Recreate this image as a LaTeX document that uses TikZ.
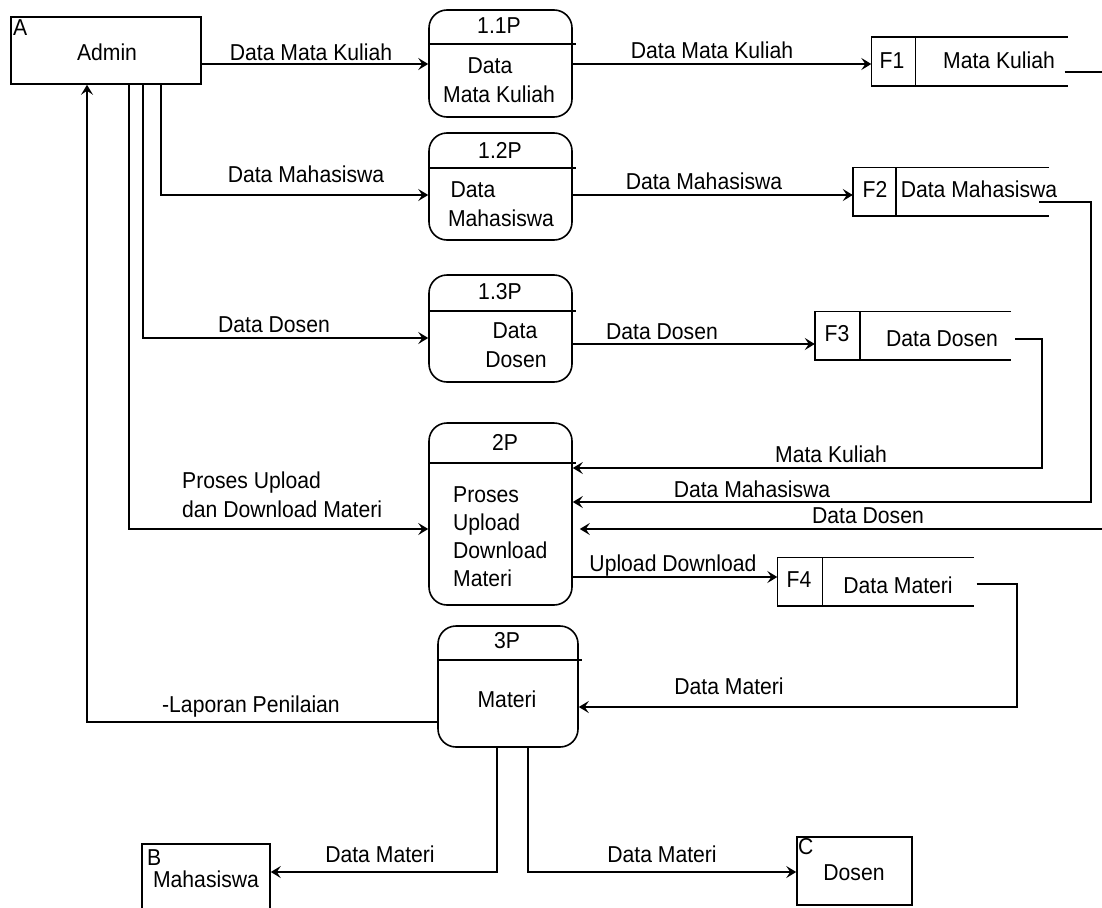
\documentclass[tikz,border=0pt]{standalone}
\usepackage{fontspec}
\setmainfont{Liberation Sans}[FakeStretch=0.92]
\usepackage{tikz}
\usetikzlibrary{arrows.meta}

\tikzset{
    entity/.style={draw, line width=1.6pt, inner sep=0pt},
    proc/.style={draw, line width=1.6pt, rounded corners=18pt, inner sep=0pt, minimum width=143pt},
    store/.style={inner sep=0pt, minimum width=196pt, minimum height=48pt},
    txt/.style={anchor=base, inner sep=0pt},
    flow/.style={line width=1.6pt, -{Stealth[length=10pt, width=12pt, inset=4pt]}},
    wire/.style={line width=1.6pt},
}

\begin{document}
\begin{tikzpicture}[x=1pt, y=-1pt, font=\fontsize{23}{27}\selectfont]
    \clip (0,0) rectangle (1102,907);
    \fill[white] (0,0) rectangle (1102,907);

    % External entities
    \node[entity, minimum width=190pt, minimum height=67pt] (admin) at ({106}, {50.5}) {};
    \node[entity, minimum width=128pt, minimum height=72pt] (mhs) at ({206}, {880}) {};
    \node[entity, minimum width=115pt, minimum height=68pt] (dosen) at ({854.5}, {871}) {};
    \node[txt, anchor=base west] (adminid) at ({13}, {36}) {A};
    \node[txt] (admintxt) at ({107}, {60}) {Admin};
    \node[txt, anchor=base west] (mhsid) at ({147}, {865}) {B};
    \node[txt] (mhstxt) at ({206}, {887}) {Mahasiswa};
    \node[txt, anchor=base west] (dosenid) at ({798}, {854}) {C};
    \node[txt] (dosentxt) at ({854}, {880}) {Dosen};

    % Processes
    \node[proc, minimum height=107pt] (p11) at ({500.5}, {63.5}) {};
    \node[proc, minimum height=107pt] (p12) at ({500.5}, {186.5}) {};
    \node[proc, minimum height=107pt] (p13) at ({500.5}, {328.5}) {};
    \node[proc, minimum height=182pt] (p2) at ({500.5}, {514}) {};
    \node[proc, minimum width=140pt, minimum height=121pt] (p3) at ({508}, {686.5}) {};
    \draw[wire] (p11.west |- 0,44) -- ([xshift=3pt]p11.east |- 0,44);
    \draw[wire] (p12.west |- 0,168) -- ([xshift=3pt]p12.east |- 0,168);
    \draw[wire] (p13.west |- 0,311) -- ([xshift=3pt]p13.east |- 0,311);
    \draw[wire] (p2.west |- 0,463) -- ([xshift=3pt]p2.east |- 0,463);
    \draw[wire] (p3.west |- 0,660) -- ([xshift=3pt]p3.east |- 0,660);

    \node[txt] (p11id) at ({499}, {34}) {1.1P};
    \node[txt] (p11a) at ({490}, {74}) {Data};
    \node[txt] (p11b) at ({499}, {102}) {Mata Kuliah};
    \node[txt] (p12id) at ({500}, {158}) {1.2P};
    \node[txt] (p12a) at ({473}, {197}) {Data};
    \node[txt] (p12b) at ({501}, {226}) {Mahasiswa};
    \node[txt] (p13id) at ({500}, {299}) {1.3P};
    \node[txt] (p13a) at ({515}, {338}) {Data};
    \node[txt] (p13b) at ({516}, {367}) {Dosen};
    \node[txt] (p2id) at ({505}, {450}) {2P};
    \foreach \t [count=\i from 0] in {Proses,Upload,Download,Materi}{
        \node[txt, anchor=base west] (p2t\i) at ({453}, {502+28*\i}) {\t};
    }
    \node[txt] (p3id) at ({507}, {648}) {3P};
    \node[txt] (p3txt) at ({507}, {707}) {Materi};

    % Data stores
    \node[store] (f1) at ({969.5}, {61.5}) {};
    \node[store] (f2) at ({951}, {191.5}) {};
    \node[store] (f3) at ({913}, {335.5}) {};
    \node[store] (f4) at ({875.5}, {581.5}) {};
    \foreach \f/\d in {f1/44, f2/43, f3/45, f4/45}{
        \draw[wire] (\f.north east) -- (\f.north west) -- (\f.south west) -- (\f.south east);
        \draw[wire] ([xshift=\d pt]\f.north west) -- ([xshift=\d pt]\f.south west);
    }
    \node[txt] (f1id) at ({892}, {68}) {F1};
    \node[txt] (f1txt) at ({999}, {68}) {Mata Kuliah};
    \node[txt] (f2id) at ({875}, {197}) {F2};
    \node[txt] (f2txt) at ({979}, {197}) {Data Mahasiswa};
    \node[txt] (f3id) at ({837}, {341}) {F3};
    \node[txt] (f3txt) at ({942}, {346}) {Data Dosen};
    \node[txt] (f4id) at ({799}, {587}) {F4};
    \node[txt] (f4txt) at ({898}, {593}) {Data Materi};

    % Flows from admin
    \draw[flow] (admin.east |- 0,64) -- (p11.west |- 0,64);
    \draw[flow] (admin.south -| 161,0) |- (p12.west |- 0,195);
    \draw[flow] (admin.south -| 143,0) |- (p13.west |- 0,338);
    \draw[flow] (admin.south -| 129,0) |- (p2.west |- 0,529);
    \draw[flow] (p3.west |- 0,722) -| (admin.south -| 87,0);
    \node[txt] (l1) at ({311}, {60}) {Data Mata Kuliah};
    \node[txt] (l2) at ({306}, {182}) {Data Mahasiswa};
    \node[txt] (l3) at ({274}, {332}) {Data Dosen};
    \node[txt, anchor=base west] (l4a) at ({182}, {488}) {Proses Upload};
    \node[txt, anchor=base west] (l4b) at ({182}, {517}) {dan Download Materi};
    \node[txt] (l5) at ({251}, {712}) {-Laporan Penilaian};

    % Flows to stores
    \draw[flow] (p11.east |- 0,64) -- (f1.west |- 0,64);
    \draw[flow] (p12.east |- 0,195) -- (f2.west |- 0,195);
    \draw[flow] (p13.east |- 0,344) -- (f3.west |- 0,344);
    \draw[flow] (p2.east |- 0,577) -- (f4.west |- 0,577);
    \node[txt] (l6) at ({712}, {59}) {Data Mata Kuliah};
    \node[txt] (l7) at ({704}, {189}) {Data Mahasiswa};
    \node[txt] (l8) at ({662}, {339}) {Data Dosen};
    \node[txt] (l9) at ({673}, {571}) {Upload Download};

    % Flows back from stores
    \draw[wire] ([xshift=-3pt]f1.east |- 0,72) -- (1102,72);
    \draw[flow] ([xshift=-10pt]f2.east |- 0,202) -| (1091,502) -- (p2.east |- 0,502);
    \draw[flow] ([xshift=4pt]f3.east |- 0,339) -| (1042,468) -- (p2.east |- 0,468);
    \coordinate (edge) at (1102,529);
    \draw[flow] (edge) -- ([xshift=7pt]p2.east |- edge);
    \draw[flow] ([xshift=3pt]f4.east |- 0,584) -| (1017,707) -- (p3.east |- 0,707);
    \node[txt] (l10) at ({831}, {462}) {Mata Kuliah};
    \node[txt] (l11) at ({752}, {497}) {Data Mahasiswa};
    \node[txt] (l12) at ({868}, {523}) {Data Dosen};
    \node[txt] (l13) at ({729}, {694}) {Data Materi};

    % Flows to mahasiswa and dosen
    \draw[flow] (p3.south -| 497,0) |- (mhs.east |- 0,872);
    \draw[flow] (p3.south -| 528,0) |- (dosen.west |- 0,872);
    \node[txt] (l14) at ({380}, {862}) {Data Materi};
    \node[txt] (l15) at ({662}, {862}) {Data Materi};
\end{tikzpicture}
\end{document}
